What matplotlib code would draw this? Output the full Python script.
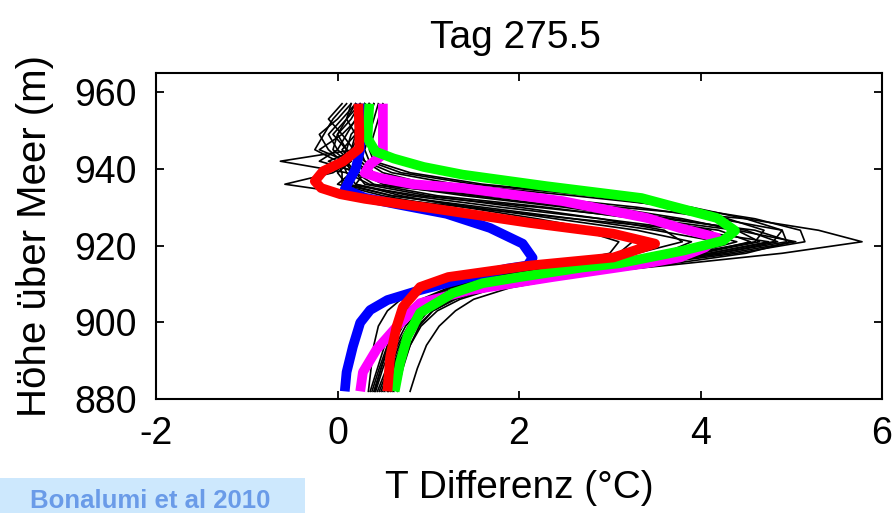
import matplotlib
matplotlib.use('Agg')
import matplotlib.pyplot as plt
from matplotlib.patches import Rectangle

plt.rcParams['font.family'] = ['Liberation Sans', 'DejaVu Sans']
plt.rcParams['axes.unicode_minus'] = False

# heights (m) shared by the thin black profiles
heights = [957, 953, 949, 945, 942, 939, 936, 933, 930, 927, 924, 921,
           918, 915, 912, 909, 906, 903, 899, 894, 888, 882]

# thin black profiles, T difference (degC) at each height above
black_profiles = [
    [0.30, 0.22, 0.05, 0.18, -0.63, 0.10, 0.35, 1.60, 3.10, 4.50, 5.30, 5.78, 4.90, 3.70, 2.40, 1.75, 1.35, 1.10, 0.92, 0.80, 0.70, 0.62],
    [0.35, 0.30, 0.25, 0.15, 0.30, 0.60, 1.30, 2.60, 3.80, 4.60, 5.10, 5.15, 4.40, 3.40, 2.30, 1.70, 1.30, 1.05, 0.88, 0.75, 0.65, 0.58],
    [0.25, 0.10, -0.05, 0.10, 0.05, 0.20, 0.10, 0.90, 2.20, 3.40, 4.40, 5.05, 4.30, 3.30, 2.20, 1.60, 1.25, 1.00, 0.85, 0.72, 0.60, 0.52],
    [0.40, 0.35, 0.30, 0.20, 0.25, 0.40, 0.90, 2.10, 3.30, 4.20, 4.90, 4.95, 4.20, 3.20, 2.10, 1.55, 1.20, 0.98, 0.82, 0.70, 0.60, 0.50],
    [0.20, 0.05, -0.10, 0.00, 0.15, -0.05, -0.58, 0.30, 1.40, 2.60, 3.90, 4.75, 4.10, 3.10, 2.05, 1.50, 1.15, 0.95, 0.80, 0.68, 0.58, 0.48],
    [0.45, 0.40, 0.35, 0.30, 0.35, 0.70, 1.50, 2.80, 3.70, 4.30, 4.70, 4.60, 3.90, 3.00, 2.00, 1.45, 1.12, 0.92, 0.78, 0.66, 0.56, 0.46],
    [0.15, 0.00, -0.20, -0.10, 0.05, 0.10, 0.20, 0.80, 1.80, 2.90, 3.90, 4.40, 3.90, 2.95, 1.95, 1.42, 1.10, 0.90, 0.75, 0.64, 0.54, 0.44],
    [0.30, 0.20, 0.10, 0.00, -0.20, 0.25, 0.50, 1.40, 2.50, 3.40, 4.10, 4.30, 3.80, 2.85, 1.90, 1.38, 1.05, 0.86, 0.72, 0.60, 0.50, 0.42],
    [0.10, -0.05, -0.15, -0.25, 0.00, 0.05, 0.05, 0.60, 1.50, 2.40, 3.30, 3.90, 3.60, 2.70, 1.80, 1.30, 1.00, 0.82, 0.68, 0.57, 0.48, 0.40],
    [0.35, 0.30, 0.15, 0.10, 0.20, 0.30, 0.20, 0.70, 1.40, 2.20, 2.90, 3.25, 3.10, 2.50, 1.75, 1.25, 0.95, 0.78, 0.65, 0.55, 0.46, 0.38],
    [0.05, -0.10, 0.05, -0.20, 0.10, 0.15, 0.00, 0.50, 1.20, 2.00, 2.70, 3.10, 3.00, 2.40, 1.70, 1.22, 0.92, 0.75, 0.62, 0.52, 0.44, 0.36],
    [0.40, 0.35, 0.20, 0.25, 0.30, 0.50, 1.00, 2.00, 3.00, 3.80, 4.40, 4.65, 4.00, 3.05, 2.05, 1.50, 1.18, 0.96, 0.82, 0.70, 0.62, 0.55],
    [0.25, 0.15, 0.00, 0.10, 0.20, 0.35, 0.70, 1.70, 2.80, 3.70, 4.50, 4.85, 4.20, 3.15, 2.15, 1.58, 1.22, 1.00, 0.86, 0.76, 0.68, 0.60],
    [0.50, 0.45, 0.40, 0.35, 0.40, 0.80, 1.60, 2.90, 3.90, 4.50, 4.90, 4.80, 4.10, 3.25, 2.25, 1.65, 1.28, 1.05, 0.90, 0.80, 0.72, 0.66],
    [0.30, 0.25, 0.20, 0.15, 0.25, 0.40, 0.60, 1.50, 2.60, 3.60, 4.60, 5.00, 4.50, 3.60, 2.60, 1.90, 1.50, 1.30, 1.12, 0.98, 0.88, 0.80],
    [0.20, 0.10, 0.00, -0.05, 0.10, 0.20, 0.30, 1.00, 2.00, 2.90, 3.60, 3.80, 3.30, 2.50, 1.60, 1.05, 0.70, 0.55, 0.45, 0.40, 0.37, 0.34],
    [0.15, 0.10, 0.20, 0.05, 0.15, 0.00, 0.10, 0.60, 1.60, 2.60, 3.50, 4.20, 3.70, 2.80, 1.85, 1.30, 0.98, 0.80, 0.66, 0.56, 0.48, 0.41],
    [0.35, 0.25, 0.30, 0.20, -0.10, 0.20, 0.40, 1.10, 2.30, 3.30, 4.20, 4.55, 4.00, 3.00, 2.00, 1.46, 1.14, 0.93, 0.80, 0.70, 0.63, 0.56],
]

# thick coloured profiles
red_h = [957, 950, 945.3, 941.9, 939.4, 936.8, 935, 933.4, 932.2, 931, 929.8, 925.9, 923.1, 920.5,
         916.9, 914.8, 911.8, 909.2, 904, 898.8, 891, 882]
red_t = [0.23, 0.24, 0.24, 0.06, -0.16, -0.25, -0.18, 0.03, 0.3, 0.65, 1.02, 2.12, 3.04, 3.5,
         3.04, 2.12, 1.22, 0.91, 0.72, 0.65, 0.58, 0.55]

blue_h = [957, 945, 940, 936.5, 934.7, 932.5, 930.8, 928.3, 924.6, 920.5, 916.8, 914.8, 914,
          911.8, 908.4, 905.8, 903.2, 899.9, 893.7, 887, 882]
blue_t = [0.25, 0.25, 0.2, 0.12, 0.08, 0.3, 0.65, 1.2, 1.68, 2.04, 2.15, 2.09, 1.87,
          1.46, 0.91, 0.55, 0.36, 0.25, 0.17, 0.10, 0.08]

magenta_h = [957, 943.7, 941.2, 938.9, 937.6, 936, 935, 931.6, 927.2, 924.6, 922.1, 919.5,
             916.9, 915.4, 911.8, 908.4, 905, 898.8, 892.9, 887, 882]
magenta_t = [0.5, 0.5, 0.36, 0.3, 0.47, 0.83, 1.38, 2.48, 3.41, 3.77, 4.18, 4.05,
             3.77, 3.41, 2.37, 1.46, 0.91, 0.65, 0.43, 0.28, 0.25]

green_h = [957, 948, 944.5, 942.7, 940.5, 938.5, 935.5, 932.4, 930.5, 927.2, 923.9, 921.3,
           918.7, 915.4, 914.3, 911.8, 910.2, 907.6, 902.5, 896.3, 889.5, 882]
green_t = [0.35, 0.33, 0.42, 0.62, 0.95, 1.38, 2.3, 3.35, 3.65, 4.18, 4.38, 4.25,
           3.81, 3.11, 2.7, 2.01, 1.6, 1.27, 0.91, 0.77, 0.69, 0.63]

x_ticks = [-2, 0, 2, 4, 6]
y_ticks = [880, 900, 920, 940, 960]


fig = plt.figure(figsize=(8.94, 5.13), dpi=100)
ax = fig.add_axes([0.1745, 0.2222, 0.8121, 0.6355])

# thin black runs first, coloured ones on top
for prof in black_profiles:
    ax.plot(prof, heights, color='black', lw=1.2, zorder=2)
for t, h, c in [(blue_t, blue_h, '#0000ff'), (magenta_t, magenta_h, '#ff00ff'),
                (green_t, green_h, '#00ff00'), (red_t, red_h, '#ff0000')]:
    ax.plot(t, h, color=c, lw=7, solid_joinstyle='round', solid_capstyle='butt', zorder=3)

ax.set_xlim(-2, 6)
ax.set_ylim(880, 965)
ax.set_xticks(x_ticks)
ax.set_yticks(y_ticks)
ax.tick_params(direction='in', length=6, width=1.3, labelsize=27, top=True, right=True)
ax.tick_params(axis='x', pad=12)
ax.tick_params(axis='y', pad=14)
for s in ax.spines.values():
    s.set_linewidth(1.5)

ax.set_xlabel('T Differenz (°C)', fontsize=28, labelpad=13)
ax.set_ylabel('Höhe über Meer (m)', fontsize=29, labelpad=14)
fig.text(0.576, 0.926, 'Tag 275.5', fontsize=28, ha='center', va='center')

# citation box in the lower left corner
fig.patches.append(Rectangle((0, 0), 0.341, 0.068, transform=fig.transFigure,
                             facecolor='#cde8fd', edgecolor='none'))
fig.text(0.168, 0.024, 'Bonalumi et al 2010', fontsize=18.5, fontweight='bold',
         color='#6a9be8', ha='center', va='center')

fig.savefig('out.png', dpi=100)
